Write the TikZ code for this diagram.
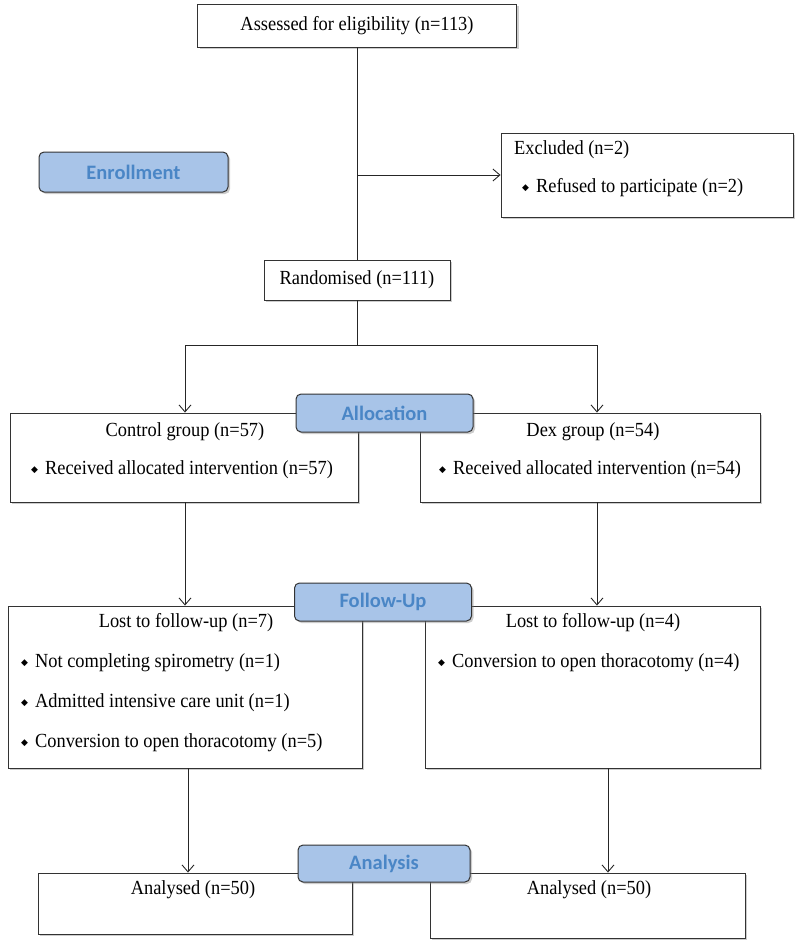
\documentclass[tikz,border=0pt]{standalone}
\usepackage{fontspec}
\setmainfont{Liberation Serif}[FakeStretch=0.92]
\newfontfamily\stagefont{Carlito}
\newfontfamily\symfont{DejaVu Sans}
\usepackage{xcolor}
\usetikzlibrary{positioning, shadows, arrows.meta}
\definecolor{stagefill}{RGB}{168,196,232}
\definecolor{stagetext}{RGB}{74,134,198}
\newcommand{\bul}{\raisebox{2.5pt}{\symfont\fontsize{9}{9}\selectfont ◆}\hspace{7pt}}
\tikzset{
	box/.style={draw=black!80, line width=0.9pt, fill=white, inner sep=0pt, font=\fontsize{20}{24}\selectfont,
		drop shadow={shadow xshift=2pt, shadow yshift=-2pt, opacity=.4}},
	stage/.style={box, rounded corners=5pt, fill=stagefill, text=stagetext, line width=1pt,
		font=\stagefont\bfseries\fontsize{20.5}{24}\selectfont},
	txt/.style={inner sep=0pt, font=\fontsize{20}{24}\selectfont},
	flow/.style={line width=0.9pt, black!85},
	arr/.style={flow, -{Straight Barb[length=7pt, width=12pt]}}
}

\begin{document}
\begin{tikzpicture}[x=1pt, y=-1pt]
				\useasboundingbox (0,0) rectangle (800,945);
				% boxes
				\node[box, minimum width=319pt, minimum height=43pt] (assess) at (357,25.5) {Assessed for eligibility (n=113)};
				\node[box, minimum width=292pt, minimum height=84pt] (excl) at (647,175) {};
				\node[box, minimum width=186pt, minimum height=40pt] (rand) at (357,280) {Randomised (n=111)};
				\node[box, minimum width=348pt, minimum height=89pt] (ctrl) at (184,457.5) {};
				\node[box, minimum width=340pt, minimum height=89pt] (dex) at (590,457.5) {};
				\node[box, minimum width=354pt, minimum height=162pt] (lostL) at (185,687) {};
				\node[box, minimum width=335pt, minimum height=162pt] (lostR) at (592.5,687) {};
				\node[box, minimum width=314pt, minimum height=61pt] (anL) at (195,903.5) {};
				\node[box, minimum width=315pt, minimum height=65pt] (anR) at (587.5,905.5) {};
				% texts
				\node[txt, anchor=west] (exclt) at (514,150) {Excluded (n=2)};
				\node[txt, anchor=west] (exclb) at (522,188) {\bul Refused to participate (n=2)};
				\node[txt] (ctrlt) at (185,432) {Control group (n=57)};
				\node[txt, anchor=west] (ctrlb) at (31,470) {\bul Received allocated intervention (n=57)};
				\node[txt] (dext) at (593,432) {Dex group (n=54)};
				\node[txt, anchor=west] (dexb) at (439,470) {\bul Received allocated intervention (n=54)};
				\node[txt] (lostLt) at (186,623) {Lost to follow-up (n=7)};
				\node[txt, anchor=west] (lostLb1) at (21,663) {\bul Not completing spirometry (n=1)};
				\node[txt, anchor=west] (lostLb2) at (21,703) {\bul Admitted intensive care unit (n=1)};
				\node[txt, anchor=west] (lostLb3) at (21,743) {\bul Conversion to open thoracotomy (n=5)};
				\node[txt] (lostRt) at (593,623) {Lost to follow-up (n=4)};
				\node[txt, anchor=west] (lostRb) at (438,663) {\bul Conversion to open thoracotomy (n=4)};
				\node[txt] (anLt) at (193,890) {Analysed (n=50)};
				\node[txt] (anRt) at (589,890) {Analysed (n=50)};
				% connectors
				\coordinate (split) at (assess.south |- excl.west);
				\coordinate (branch) at (357,345);
				\coordinate (bl) at (185,345);
				\coordinate (br) at (597,345);
				\coordinate (dl) at (188,0);
				\coordinate (dr) at (608,0);
				\draw[flow] (assess) -- (rand);
				\draw[arr] (split) -- (excl);
				\draw[flow] (rand) -- (branch);
				\draw[flow] (bl) -- (br);
				\draw[arr] (bl) -- (bl |- ctrl.north);
				\draw[arr] (br) -- (br |- dex.north);
				\draw[arr] (ctrl.south -| bl) -- (lostL.north -| bl);
				\draw[arr] (dex.south -| br) -- (lostR.north -| br);
				\draw[arr] (lostL.south -| dl) -- (anL.north -| dl);
				\draw[arr] (lostR.south -| dr) -- (anR.north -| dr);
				% stage labels
				\node[stage, minimum width=189pt, minimum height=40pt] (enroll) at (133.5,172) {Enrollment};
				\node[stage, minimum width=177pt, minimum height=38pt] (alloc) at (384.5,413) {Allocation};
				\node[stage, minimum width=177pt, minimum height=38pt] (follow) at (383,602) {Follow-Up};
				\node[stage, minimum width=172pt, minimum height=37pt] (analysis) at (384,863.5) {Analysis};
\end{tikzpicture}
\end{document}
